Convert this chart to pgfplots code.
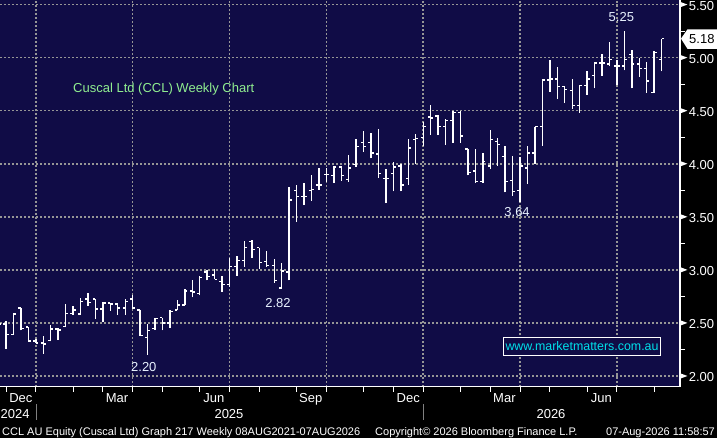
\documentclass[border=0pt]{standalone}
\usepackage{fontspec}
\setmainfont{Liberation Sans}
\usepackage{pgfplots}
\usepackage{pgfplotstable}
\pgfplotsset{compat=1.18}
\definecolor{navybg}{RGB}{16,12,70}
\definecolor{gridgray}{RGB}{150,150,150}
\definecolor{titlegreen}{RGB}{144,238,144}
\definecolor{mmcyan}{RGB}{0,225,235}
\definecolor{annot}{RGB}{232,242,255}

% weekly OHLC, week index i (1 = first full bar, early Dec 2024)
\pgfplotstableread{
i o h l c
0 2.50 2.56 2.44 2.49
1 2.49 2.52 2.255 2.39
2 2.39 2.585 2.39 2.585
3 2.64 2.64 2.43 2.45
4 2.46 2.465 2.33 2.33
5 2.33 2.35 2.31 2.31
6 2.31 2.38 2.21 2.30
7 2.333 2.484 2.327 2.443
8 2.443 2.453 2.34 2.434
9 2.465 2.679 2.459 2.591
10 2.591 2.664 2.579 2.623
11 2.585 2.736 2.585 2.704
12 2.726 2.783 2.664 2.695
13 2.726 2.726 2.535 2.632
14 2.632 2.695 2.506 2.686
15 2.686 2.686 2.616 2.679
16 2.679 2.686 2.579 2.642
17 2.642 2.726 2.579 2.704
18 2.726 2.767 2.632 2.642
19 2.623 2.623 2.381 2.381
20 2.36 2.49 2.20 2.43
21 2.45 2.547 2.434 2.54
22 2.55 2.55 2.43 2.50
23 2.50 2.62 2.45 2.61
24 2.62 2.72 2.62 2.67
25 2.67 2.82 2.67 2.80
26 2.80 2.90 2.74 2.79
27 2.78 2.94 2.76 2.93
28 2.98 3.00 2.90 2.94
29 2.95 3.01 2.91 2.91
30 2.89 2.94 2.79 2.86
31 2.86 3.11 2.84 3.03
32 3.03 3.13 2.94 3.09
33 3.09 3.27 3.03 3.21
34 3.27 3.28 3.11 3.19
35 3.21 3.21 3.01 3.07
36 3.08 3.18 3.03 3.04
37 3.04 3.10 2.88 2.90
38 2.83 3.06 2.82 2.99
39 2.98 3.78 2.90 3.66
40 3.75 3.80 3.45 3.69
41 3.69 3.82 3.61 3.69
42 3.75 3.89 3.65 3.755
43 3.80 3.96 3.755 3.80
44 3.90 3.96 3.83 3.90
45 3.89 3.975 3.82 3.97
46 3.97 3.975 3.84 3.89
47 3.85 4.08 3.83 3.96
48 3.99 4.23 3.97 4.16
49 4.20 4.31 4.11 4.16
50 4.20 4.29 4.05 4.10
51 4.09 4.33 3.87 3.91
52 3.86 3.95 3.63 3.86
53 3.91 4.02 3.74 3.97
54 3.98 4.00 3.74 3.80
55 3.86 4.23 3.80 4.15
56 4.23 4.28 4.00 4.24
57 4.25 4.39 4.17 4.35
58 4.44 4.55 4.275 4.43
59 4.45 4.46 4.27 4.35
60 4.35 4.42 4.18 4.41
61 4.41 4.50 4.20 4.48
62 4.48 4.50 4.20 4.26
63 4.14 4.14 3.89 3.92
64 3.93 4.14 3.82 3.83
65 3.83 4.10 3.82 4.02
66 3.98 4.32 3.95 4.23
67 4.21 4.24 3.98 4.18
68 4.07 4.17 3.73 3.83
69 3.84 4.07 3.70 3.74
70 3.75 4.06 3.64 3.98
71 3.96 4.17 3.81 4.10
72 4.10 4.35 4.00 4.35
73 4.35 4.80 4.17 4.79
74 4.79 4.98 4.68 4.80
75 4.80 4.91 4.61 4.73
76 4.73 4.73 4.57 4.70
77 4.69 4.80 4.52 4.55
78 4.55 4.74 4.48 4.74
79 4.74 4.87 4.65 4.80
80 4.83 4.96 4.71 4.95
81 4.95 5.03 4.83 4.95
82 4.94 5.15 4.92 4.98
83 4.92 4.98 4.74 4.92
84 4.92 5.25 4.88 4.98
85 5.03 5.07 4.71 4.94
86 4.94 5.00 4.82 4.90
87 4.90 4.96 4.67 4.78
88 4.67 5.06 4.67 5.05
89 4.98 5.18 4.87 5.18
}\ohlc

\newcommand{\ytri}{\tikz[baseline=-6bp]\fill[white] (0,2.8bp)--(7.5bp,0)--(0,-2.8bp)--cycle;}

\begin{document}
\begin{tikzpicture}
\fill[black] (0,-51.3bp) rectangle (717bp,386.7bp);
\begin{axis}[
  at={(0,0)}, anchor=south west,
  scale only axis, width=680bp, height=386.7bp,
  xmin=0.1946, xmax=91.47, ymin=1.899, ymax=5.543,
  axis background/.style={fill=navybg},
  axis x line*=bottom, axis y line*=right,
  axis line style={white, line width=1.3bp},
  /pgf/number format/assume math mode=true,
  xtick={5,18,31,44,57,70,83}, xticklabels={},
  minor xtick={1,10,14,22,27,35,40,49,53,62,66,74,79,88},
  ytick={2,2.5,...,5.5}, minor ytick={2.25,2.75,...,5.25},
  grid=major,
  major grid style={gridgray, line width=1.6bp, dash pattern=on 2bp off 2bp},
  tick align=outside, major tick length=5bp, minor tick length=5bp,
  tick style={white, line width=1bp},
  yticklabel={\ytri\hspace{1.5bp}\pgfmathprintnumber[fixed,fixed zerofill,precision=2]{\tick}},
  yticklabel style={anchor=base west, inner sep=0pt, text=white, font=\fontsize{13bp}{15bp}\selectfont, yshift=-6bp, xshift=-5.3bp},
  extra x ticks={3,15.9,28.9,41.9,55,67.9,80.9},
  extra x tick labels={Dec,Mar,Jun,Sep,Dec,Mar,Jun},
  extra x tick style={grid=none, major tick length=0pt, tick style={draw=none},
    xticklabel style={anchor=base, inner sep=0pt, text=white, font=\fontsize{13bp}{15bp}\selectfont, yshift=-16bp}},
  clip=true,
]
\addplot[draw=none, mark=none, error bars/.cd, y dir=plus, y explicit, error mark=none,
  error bar style={draw=white, line width=1.4bp}]
  table[x=i, y=l, y error expr=\thisrow{h}-\thisrow{l}] {\ohlc};
\addplot[draw=none, mark=none, error bars/.cd, x dir=minus, x fixed=0.36, error mark=none,
  error bar style={draw=white, line width=1.4bp}]
  table[x=i, y=o] {\ohlc};
\addplot[draw=none, mark=none, error bars/.cd, x dir=plus, x fixed=0.36, error mark=none,
  error bar style={draw=white, line width=1.4bp}]
  table[x=i, y=c] {\ohlc};

\node[text=annot, font=\fontsize{13bp}{15bp}\selectfont] at (axis cs:83.6,5.383) {5.25};
\node[text=annot, font=\fontsize{13bp}{15bp}\selectfont] at (axis cs:69.6,3.545) {3.64};
\node[text=annot, font=\fontsize{13bp}{15bp}\selectfont] at (axis cs:37.5,2.688) {2.82};
\node[text=annot, font=\fontsize{13bp}{15bp}\selectfont] at (axis cs:19.5,2.084) {2.20};
\end{axis}

% title
\node[anchor=west, inner sep=0pt, text=titlegreen, font=\fontsize{13bp}{15bp}\selectfont] at (73bp,297.7bp) {Cuscal Ltd (CCL) Weekly Chart};
% website box
\draw[white, line width=1bp, fill=navybg] (503.3bp,31.4bp) rectangle (660.7bp,49.4bp);
\node[text=mmcyan, inner sep=0pt, font=\fontsize{12.4bp}{14bp}\selectfont] at (582bp,40.4bp) {www.marketmatters.com.au};
% last price flag
\fill[white] (681bp,348.1bp) -- (687.5bp,357.4bp) -- (717bp,357.4bp) -- (717bp,337.8bp) -- (687.5bp,337.8bp) -- cycle;
\node[anchor=base west, inner sep=0pt, text=black, font=\fontsize{13bp}{15bp}\selectfont] at (689bp,343.2bp) {5.18};
% year row
\node[anchor=base west, inner sep=0pt, text=white, font=\fontsize{13bp}{15bp}\selectfont] at (0.5bp,-31.6bp) {2024};
\node[anchor=base, inner sep=0pt, text=white, font=\fontsize{13bp}{15bp}\selectfont] at (229bp,-31.6bp) {2025};
\node[anchor=base, inner sep=0pt, text=white, font=\fontsize{13bp}{15bp}\selectfont] at (551bp,-31.6bp) {2026};
\draw[gray, line width=1bp] (36bp,-17.3bp) -- (36bp,-33.3bp);
\draw[gray, line width=1bp] (423.3bp,-17.3bp) -- (423.3bp,-33.3bp);
% footer
\node[anchor=base west, inner sep=0pt, text=white, font=\fontsize{11bp}{13bp}\selectfont] at (2bp,-48.3bp) {CCL AU Equity (Cuscal Ltd) Graph 217 Weekly 08AUG2021-07AUG2026};
\node[anchor=base west, inner sep=0pt, text=white, font=\fontsize{11bp}{13bp}\selectfont] at (375bp,-48.3bp) {Copyright© 2026 Bloomberg Finance L.P.};
\node[anchor=base east, inner sep=0pt, text=white, font=\fontsize{11bp}{13bp}\selectfont] at (715bp,-48.3bp) {07-Aug-2026 11:58:57};
\pgfresetboundingbox
\useasboundingbox (0,-51.3bp) rectangle (717bp,386.7bp);
\end{tikzpicture}
\end{document}
